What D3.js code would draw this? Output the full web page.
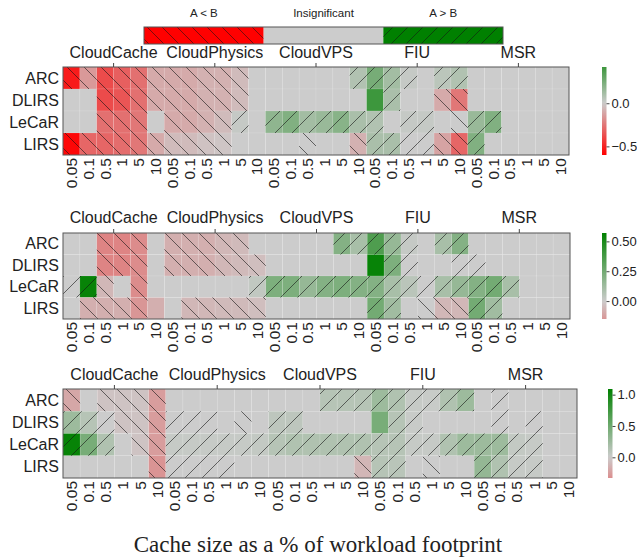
<!DOCTYPE html>
<html><head><meta charset="utf-8">
<script src="https://cdn.jsdelivr.net/npm/d3@7"></script>
<style>
body{margin:0;background:#fff}
svg{display:block}
text{font-family:"Liberation Sans",Arial,Helvetica,sans-serif;fill:#222}
</style>
</head><body>
<svg id="chart" width="637" height="557"></svg>
<script>
// ---------- data ----------
const algorithms = ["ARC","DLIRS","LeCaR","LIRS"];
const workloads = ["CloudCache","CloudPhysics","CloudVPS","FIU","MSR"];
const cacheSizes = ["0.05","0.1","0.5","1","5","10"];
const legendLabels = ["A < B","Insignificant","A > B"];
const axisTitle = "Cache size as a % of workload footprint";

// panel 1 values (rows: ARC, DLIRS, LeCaR, LIRS; 30 columns)
const values1 = [
 [-0.52,-0.15,-0.38,-0.32,-0.27,-0.1,-0.1,-0.1,-0.08,-0.08,-0.05,0,0,0,0,0,0,0.08,0.25,0.12,0.02,0,0.05,0.08,0,0,0,0,0,0],
 [0,0,-0.38,-0.35,-0.27,-0.1,-0.1,-0.1,-0.08,-0.08,-0.05,0,0,0,0,0,0,0,0.42,0.1,0,0,-0.1,-0.25,0,0,0,0,0,0],
 [0,0,-0.27,-0.27,-0.25,0,-0.1,-0.1,-0.08,-0.05,0.02,0,0.18,0.22,0.12,0.15,0.2,0.1,0.08,0,0.02,0.02,0,0,0.15,0.22,0,0,0,0],
 [-0.58,-0.3,-0.3,-0.28,-0.25,-0.1,-0.05,-0.05,-0.03,-0.02,0,0,0,0,0,0,0,-0.08,0.1,0.1,0,0,-0.12,-0.3,0.22,0,0,0,0,0]
];
// significance: -1 = A<B (\\), 1 = A>B (/), 0 = insignificant
const sig1 = [
 [-1,-1,-1,-1,-1,-1,-1,-1,-1,-1,-1,0,0,0,0,0,0,1,1,1,1,0,1,1,0,0,0,0,0,0],
 [0,0,-1,-1,-1,-1,-1,-1,-1,-1,-1,0,0,0,0,0,0,0,0,1,0,0,-1,-1,0,0,0,0,0,0],
 [0,0,-1,-1,-1,0,-1,-1,-1,-1,1,0,1,1,1,1,1,1,1,0,1,1,0,-1,1,1,0,0,0,0],
 [-1,-1,-1,-1,-1,-1,-1,-1,-1,-1,0,0,0,0,-1,0,0,-1,1,1,1,1,-1,-1,1,0,0,0,0,0]
];
const values2 = [
 [0,0,-0.2,-0.2,-0.18,0,-0.08,-0.08,-0.08,-0.06,-0.05,0,0,0,0,0,0.2,0.1,0.35,0.15,0.02,0,0.1,0.2,0,0,0,0,0,0],
 [0,0,-0.2,-0.2,-0.18,0,-0.08,-0.08,-0.08,-0.06,-0.05,-0.04,0,0,0,0,0,0,0.55,0.22,0,0,0,0,0,0,0,0,0,0],
 [0,0.55,-0.06,0,-0.18,0,0,0,0,0,0,0.03,0.22,0.22,0.15,0.2,0.22,0.2,0.2,0.1,0.05,0,0.1,0.15,0.2,0.25,0.1,0,0,0],
 [0,-0.08,-0.08,-0.08,-0.15,-0.08,0,-0.06,-0.06,-0.05,-0.05,-0.04,0,0,0,0,0,0,0.25,0.12,0,0,-0.06,-0.06,0.25,0.12,0,0,0,0]
];
const sig2 = [
 [0,0,-1,-1,-1,0,-1,-1,-1,-1,-1,0,0,0,0,0,1,1,1,1,1,0,1,1,0,0,0,0,0,0],
 [0,0,-1,-1,-1,0,-1,-1,-1,-1,-1,-1,0,0,0,0,0,0,0,1,1,0,0,1,1,0,0,0,0,0],
 [1,1,-1,0,-1,0,0,0,0,0,0,1,1,1,1,1,1,1,1,1,1,1,1,1,1,1,1,0,0,0],
 [0,-1,-1,-1,-1,0,0,-1,-1,-1,-1,-1,0,0,0,0,0,0,1,1,0,-1,-1,-1,1,1,0,0,0,0]
];
const values3 = [
 [-0.2,0,-0.05,-0.05,-0.05,-0.25,0,0,0,0,0,0,0,0,0,0.12,0.12,0.12,0.25,0.15,0.03,0.02,0.15,0.25,0,0,0,0,0,0],
 [0.25,0.12,0,-0.05,-0.05,-0.25,0,0,0,0,0,0,0.08,0.08,0,0,0,0,0.45,0.12,0.02,0,0,0,0,0,0,0,0,0],
 [1.05,0.45,0.15,0,-0.05,-0.25,0.03,0.03,0.03,0.03,0.03,0.05,0.12,0.15,0.15,0.15,0.15,0.15,0.12,0.12,0.03,0.03,0.15,0.25,0.25,0.25,0.05,0.03,0,0],
 [0,0,0,0,0,-0.3,0,0,0,0,0,0,0,0,0,0,0,-0.12,0.12,0.1,0,0,0,0,0.3,0.15,0.03,0.03,0,0]
];
const sig3 = [
 [-1,0,-1,-1,-1,-1,0,0,0,0,0,0,0,0,0,1,1,1,1,1,1,1,1,1,0,1,0,0,0,0],
 [1,1,1,-1,-1,-1,1,1,1,0,-1,0,1,1,0,0,0,0,0,1,1,0,0,0,0,1,0,1,0,0],
 [1,1,1,0,-1,-1,1,1,1,1,1,1,1,1,1,1,1,1,1,1,1,1,1,1,1,1,1,1,0,0],
 [0,0,0,0,0,-1,1,1,1,1,0,0,0,0,0,0,0,-1,1,1,0,-1,0,0,1,1,1,1,0,0]
];
// colorbar ranges and ticks per panel
const cbDomain1 = [-0.6, 0.42], cbTicks1 = [-0.5, 0.0];
const cbDomain2 = [-0.15, 0.57], cbTicks2 = [0.0, 0.25, 0.5];
const cbDomain3 = [-0.33, 1.09], cbTicks3 = [0.0, 0.5, 1.0];

// ---------- drawing ----------
const svg = d3.select("#chart");
const defs = svg.append("defs");
const columns = workloads.flatMap(w => cacheSizes.map(s => w + "|" + s));

function hatchPattern(id, size, dir, color, sw) {
  const p = defs.append("pattern").attr("id", id)
    .attr("patternUnits", "userSpaceOnUse").attr("width", size).attr("height", size);
  const d = dir > 0
    ? `M0,${size} L${size},0 M${-size/2},${size/2} L${size/2},${-size/2} M${size/2},${size*1.5} L${size*1.5},${size/2}`
    : `M0,0 L${size},${size} M${-size/2},${size/2} L${size/2},${size*1.5} M${size/2},${-size/2} L${size*1.5},${size/2}`;
  p.append("path").attr("d", d).attr("stroke", color).attr("stroke-width", sw).attr("fill", "none");
}
hatchPattern("hF", 17, 1, "rgba(20,20,20,0.75)", 0.8);
hatchPattern("hB", 17, -1, "rgba(20,20,20,0.75)", 0.8);
hatchPattern("lF", 15, 1, "rgba(20,20,20,0.7)", 0.8);
hatchPattern("lB", 15, -1, "rgba(20,20,20,0.7)", 0.8);

// legend
(function legend(){
  const lx = d3.scaleBand().domain(legendLabels).range([144, 503]);
  const fills = ["#ff0000", "#cccccc", "#008000"];
  const hat = ["url(#lB)", null, "url(#lF)"];
  legendLabels.forEach((l, i) => {
    svg.append("rect").attr("x", lx(l)).attr("y", 27).attr("width", lx.bandwidth()).attr("height", 17).attr("fill", fills[i]);
    if (hat[i]) svg.append("rect").attr("x", lx(l)).attr("y", 27).attr("width", lx.bandwidth()).attr("height", 17).attr("fill", hat[i]);
    svg.append("text").attr("x", lx(l) + lx.bandwidth()/2).attr("y", 17).attr("text-anchor", "middle")
      .attr("font-size", 11.5).text(l);
  });
  svg.append("rect").attr("x", 144).attr("y", 27).attr("width", 359).attr("height", 17)
    .attr("fill", "none").attr("stroke", "#555").attr("stroke-width", 1);
})();

function drawPanel(p) {
  const g = svg.append("g");
  const x = d3.scaleBand().domain(columns).range([p.left, p.left + p.width]);
  const y = d3.scaleBand().domain(algorithms).range([p.top, p.top + p.height]);
  const m = Math.max(Math.abs(p.cb[0]), Math.abs(p.cb[1]));
  const color = d3.scaleLinear().domain([-m, 0, m]).range(["#ff0000", "#cccccc", "#008000"]).clamp(true);
  const cells = [];
  algorithms.forEach((a, r) => columns.forEach((c, j) => cells.push({a, c, v: p.values[r][j], s: p.sig[r][j]})));
  g.selectAll("rect.cell").data(cells).join("rect")
    .attr("x", d => x(d.c)).attr("y", d => y(d.a))
    .attr("width", x.bandwidth()).attr("height", y.bandwidth())
    .attr("fill", d => color(d.v))
    .attr("stroke", "rgba(255,255,255,0.18)").attr("stroke-width", 0.6);
  g.selectAll("rect.hatch").data(cells.filter(d => d.s !== 0)).join("rect")
    .attr("x", d => x(d.c)).attr("y", d => y(d.a))
    .attr("width", x.bandwidth()).attr("height", y.bandwidth())
    .attr("fill", d => d.s > 0 ? "url(#hF)" : "url(#hB)");
  g.append("rect").attr("x", p.left).attr("y", p.top).attr("width", p.width).attr("height", p.height)
    .attr("fill", "none").attr("stroke", "#555").attr("stroke-width", 1);
  // row labels
  g.selectAll("text.row").data(algorithms).join("text")
    .attr("x", p.left - 4).attr("y", d => y(d) + y.bandwidth()/2).attr("dy", "0.35em")
    .attr("text-anchor", "end").attr("font-size", 16).text(d => d);
  // column labels
  g.selectAll("text.col").data(columns).join("text")
    .attr("transform", d => `translate(${x(d) + x.bandwidth()/2},${p.top + p.height + 3}) rotate(-90)`)
    .attr("dy", "0.35em").attr("text-anchor", "end").attr("font-size", 15.5)
    .text(d => d.split("|")[1]);
  // group labels + ticks on top
  const gw = p.width / workloads.length;
  workloads.forEach((w, i) => {
    const cx = p.left + gw * i + gw / 2;
    g.append("line").attr("x1", cx).attr("x2", cx).attr("y1", p.top).attr("y2", p.top - 4).attr("stroke", "#444");
    g.append("text").attr("x", cx).attr("y", p.labelY).attr("text-anchor", "middle").attr("font-size", 16).text(w);
  });
  // colorbar
  const cy = d3.scaleLinear().domain(p.cb).range([p.top + p.height, p.top]);
  const gid = "grad" + p.id;
  const grad = defs.append("linearGradient").attr("id", gid).attr("x1", 0).attr("y1", 1).attr("x2", 0).attr("y2", 0);
  d3.range(0, 1.0001, 0.05).forEach(t => {
    grad.append("stop").attr("offset", t).attr("stop-color", color(p.cb[0] + t * (p.cb[1] - p.cb[0])));
  });
  g.append("rect").attr("x", p.cbX).attr("y", p.top).attr("width", 4.5).attr("height", p.height).attr("fill", `url(#${gid})`);
  const ax = g.append("g").attr("transform", `translate(${p.cbX + 4.5},0)`)
    .call(d3.axisRight(cy).tickValues(p.ticks).tickSize(3).tickPadding(2).tickFormat(d3.format(p.fmt)));
  ax.select(".domain").remove();
  ax.selectAll("line").attr("stroke", "#444");
  ax.selectAll("text").attr("font-size", 13).attr("fill", "#222");
}

drawPanel({id: 1, left: 63, width: 506, top: 67, height: 88, labelY: 58, values: values1, sig: sig1, cb: cbDomain1, ticks: cbTicks1, fmt: ".1f", cbX: 602});
drawPanel({id: 2, left: 63, width: 507, top: 233, height: 86, labelY: 223, values: values2, sig: sig2, cb: cbDomain2, ticks: cbTicks2, fmt: ".2f", cbX: 602});
drawPanel({id: 3, left: 63, width: 514, top: 389, height: 89, labelY: 380, values: values3, sig: sig3, cb: cbDomain3, ticks: cbTicks3, fmt: ".1f", cbX: 608});

svg.append("text").attr("x", 318).attr("y", 552).attr("text-anchor", "middle")
  .style("font-family", "'Liberation Serif','Times New Roman',serif").attr("font-size", 23).text(axisTitle);
</script>
</body></html>
